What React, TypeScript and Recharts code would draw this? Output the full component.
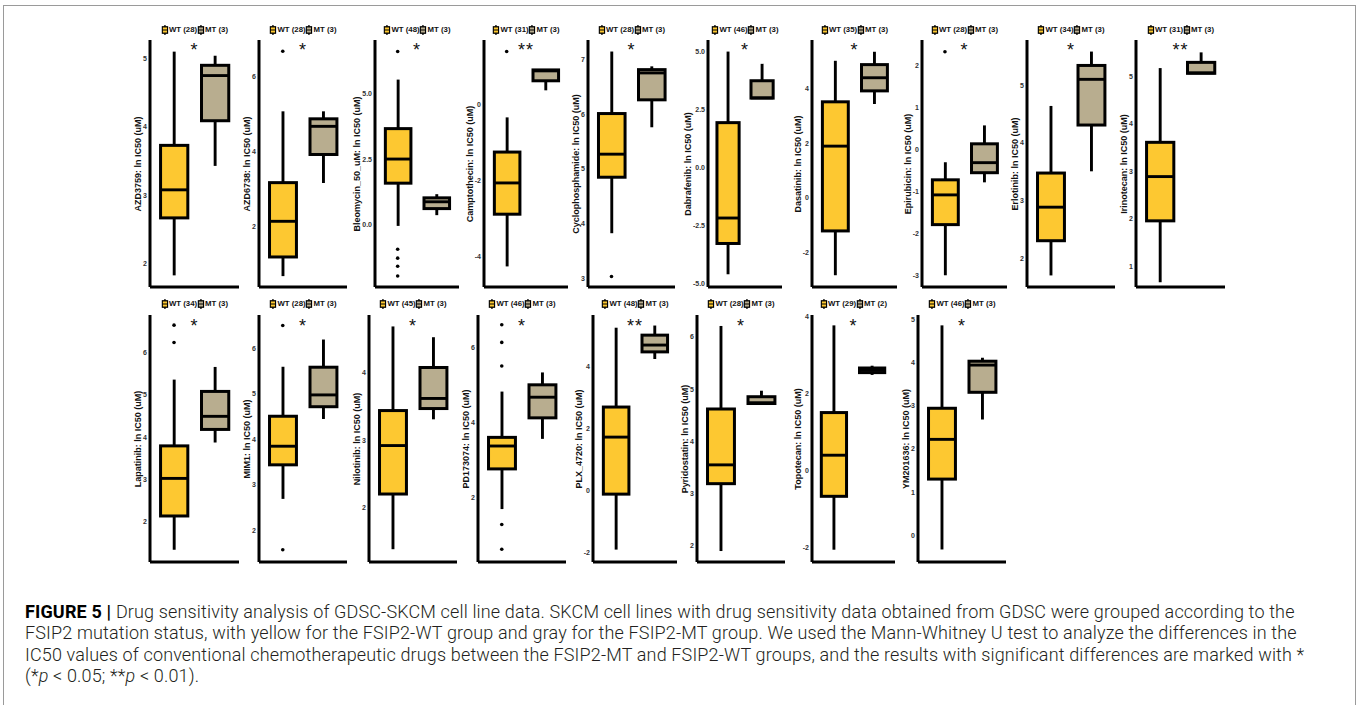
import React from 'react';
import { ComposedChart, Bar, Scatter, XAxis, YAxis } from 'recharts';

// ---------- data ----------
const drugs = [
  'AZD3759', 'AZD6738', 'Bleomycin_50_uM', 'Camptothecin', 'Cyclophosphamide',
  'Dabrafenib', 'Dasatinib', 'Epirubicin', 'Erlotinib', 'Irinotecan',
  'Lapatinib', 'MIM1', 'Nilotinib', 'PD173074', 'PLX_4720',
  'Pyridostatin', 'Topotecan', 'YM201636',
];
const groups = ['WT', 'MT'];
const wtCounts = [28, 28, 48, 31, 28, 46, 35, 28, 34, 31, 34, 28, 45, 46, 48, 28, 29, 46];
const mtCounts = [3, 3, 3, 3, 3, 3, 3, 3, 3, 3, 3, 3, 3, 3, 3, 3, 2, 3];
// [min, q1, median, q3, max]
const wtStats: number[][] = [
  [1.83, 2.67, 3.08, 3.73, 5.10],
  [0.69, 1.20, 2.15, 3.18, 5.08],
  [-0.05, 1.58, 2.50, 3.66, 5.53],
  [-4.25, -2.88, -2.06, -1.25, -0.34],
  [3.83, 4.85, 5.27, 6.01, 7.14],
  [-4.62, -3.29, -2.19, 1.93, 5.00],
  [-2.83, -1.21, 1.89, 3.51, 5.01],
  [-3.00, -1.79, -1.08, -0.72, -0.30],
  [1.71, 2.31, 2.89, 3.48, 4.64],
  [0.67, 1.96, 2.89, 3.61, 5.17],
  [1.33, 2.13, 3.02, 3.79, 5.36],
  [2.69, 3.44, 3.85, 4.51, 5.60],
  [1.38, 2.20, 2.92, 3.44, 4.69],
  [1.69, 2.76, 3.37, 3.60, 4.82],
  [-1.92, -0.13, 1.71, 2.68, 5.24],
  [1.90, 3.19, 3.55, 4.62, 6.21],
  [-2.07, -0.68, 0.39, 1.50, 3.77],
  [-0.33, 1.30, 2.22, 2.94, 4.86],
];
const mtStats: number[][] = [
  [3.43, 4.09, 4.75, 4.90, 5.04],
  [3.17, 3.93, 4.68, 4.88, 5.08],
  [0.36, 0.61, 0.87, 1.02, 1.16],
  [0.37, 0.62, 0.88, 0.905, 0.93],
  [5.76, 6.26, 6.75, 6.81, 6.87],
  [2.98, 2.99, 3.00, 3.74, 4.47],
  [3.43, 3.91, 4.39, 4.87, 5.34],
  [-0.78, -0.55, -0.31, 0.14, 0.58],
  [3.51, 4.31, 5.10, 5.34, 5.58],
  [5.05, 5.06, 5.07, 5.29, 5.50],
  [3.87, 4.18, 4.49, 5.08, 5.66],
  [4.45, 4.72, 4.98, 5.59, 6.20],
  [3.31, 3.47, 3.62, 4.08, 4.53],
  [3.56, 4.12, 4.67, 5.00, 5.33],
  [4.23, 4.46, 4.68, 5.00, 5.31],
  [4.71, 4.725, 4.74, 4.855, 4.97],
  [2.48, 2.54, 2.60, 2.66, 2.72],
  [2.68, 3.31, 3.94, 4.03, 4.11],
];
const wtOutliers: number[][] = [
  [], [6.68], [6.6, -0.94, -1.28, -1.59, -1.96], [1.39], [3.04], [], [], [2.34], [], [],
  [6.65, 6.24], [6.51, 1.57], [], [6.6, 6.13, 5.5, 1.28, 0.62], [], [], [], [],
];
const yDomains: number[][] = [
  [1.66, 5.27], [0.4, 6.98], [-2.38, 7.04], [-4.79, 1.69], [2.85, 7.35],
  [-5.17, 5.5], [-3.26, 5.77], [-3.28, 2.62], [1.51, 5.78], [0.57, 5.76],
  [1.04, 6.89], [1.3, 6.74], [1.19, 4.86], [0.28, 6.86], [-2.32, 5.65],
  [1.69, 6.42], [-2.39, 4.04], [-0.62, 5.1],
];
const yTicks: number[][] = [
  [2, 3, 4, 5], [2, 4, 6], [0, 2.5, 5], [-4, -2, 0], [3, 4, 5, 6, 7],
  [-5, -2.5, 0, 2.5, 5], [-2, 0, 2, 4], [-3, -2, -1, 0, 1, 2], [2, 3, 4, 5], [1, 2, 3, 4, 5],
  [2, 3, 4, 5, 6], [2, 3, 4, 5, 6], [2, 3, 4], [2, 4, 6], [-2, 0, 2, 4],
  [2, 3, 4, 5, 6], [-2, 0, 2, 4], [0, 1, 2, 3, 4, 5],
];
const tickDecimals = [0, 0, 1, 0, 0, 1, 0, 0, 0, 0, 0, 0, 0, 0, 0, 0, 0, 0];
const sigMarks = ['*', '*', '*', '**', '*', '*', '*', '*', '*', '**', '*', '*', '*', '*', '**', '*', '*', '*'];

// ---------- layout ----------
const panelLeft = [150, 259, 375, 484, 588, 708, 812, 922, 1027, 1136, 150, 259, 369, 478, 593, 697, 812, 918];
const panelWidth = [89, 88, 84, 84, 87, 74, 85, 85, 88, 89, 89, 88, 88, 88, 84, 88, 83, 88];
const rowPlotTop = [40, 315];
const rowLegendY = [30, 304];
const rowStarY = [46, 322];
const PLOT_H = 247;
const YW = 30;

const WT_COLOR = '#FDC831';
const MT_COLOR = '#B8AD8F';
const PANEL_FONT = '"Liberation Sans", Arial, Helvetica, sans-serif';

const fmt = (v: number, d: number) => (v < 0 ? '-' : '') + Math.abs(v).toFixed(d);
const tickWidth = (s: string) =>
  s.split('').reduce((a, c) => a + (c === '-' ? 2.33 : c === '.' ? 1.95 : 3.9), 0);

const BoxShape = (p: any) => {
  const { x, y, width, height, payload } = p;
  if (!payload || x == null) return null;
  const top = Math.min(y, y + height);
  const bot = Math.max(y, y + height);
  const { min, q1, med, q3, max, fill } = payload;
  const span = max - min || 1;
  const toPx = (v: number) => bot - ((v - min) / span) * (bot - top);
  const cx = x + width / 2;
  return (
    <g>
      <line x1={cx} x2={cx} y1={top} y2={bot} stroke="#000" strokeWidth={2.9} />
      <rect x={x} y={toPx(q3)} width={width} height={Math.max(toPx(q1) - toPx(q3), 0.5)} fill={fill} stroke="#000" strokeWidth={3} />
      <line x1={x} x2={x + width} y1={toPx(med)} y2={toPx(med)} stroke="#000" strokeWidth={2.9} />
    </g>
  );
};

const OutlierDot = (p: any) => <circle cx={p.cx} cy={p.cy} r={1.8} fill="#000" />;

const LegendIcon = ({ color }: { color: string }) => (
  <svg width={7} height={10} style={{ display: 'block' }}>
    <line x1={3.5} x2={3.5} y1={0} y2={10} stroke="#000" strokeWidth={1.3} />
    <rect x={0.8} y={1.8} width={5.4} height={6.4} fill={color} stroke="#000" strokeWidth={1.3} />
    <line x1={0.8} x2={6.2} y1={5} y2={5} stroke="#000" strokeWidth={1.1} />
  </svg>
);

function Panel({ i }: { i: number }) {
  const row = i < 10 ? 0 : 1;
  const w = panelWidth[i];
  const axisX = panelLeft[i];
  const plotTop = rowPlotTop[row];
  const pad = w * 0.04;
  const barW = w * 0.34 - 3;
  const data = groups.map((g, gi) => {
    const s = gi === 0 ? wtStats[i] : mtStats[i];
    return { group: g, min: s[0], q1: s[1], med: s[2], q3: s[3], max: s[4], fill: gi === 0 ? WT_COLOR : MT_COLOR };
  });
  const outliers = wtOutliers[i].map((v) => ({ x: 0.5, y: v }));
  const maxTickW = Math.max(...yTicks[i].map((t) => tickWidth(fmt(t, tickDecimals[i]))));
  const labelCx = axisX - 3 - maxTickW - 5;
  const center = axisX + w / 2;
  return (
    <>
      <div
        style={{
          position: 'absolute', left: center, top: rowLegendY[row] - 5, transform: 'translateX(-50%)',
          display: 'flex', alignItems: 'center', whiteSpace: 'nowrap', fontFamily: PANEL_FONT,
          fontSize: 7.8, fontWeight: 700, color: '#111', lineHeight: '10px',
        }}
      >
        <LegendIcon color={WT_COLOR} />
        <span style={{ marginLeft: 1 }}>{`WT (${wtCounts[i]})`}</span>
        <LegendIcon color={MT_COLOR} />
        <span style={{ marginLeft: 1 }}>{`MT (${mtCounts[i]})`}</span>
      </div>
      <div
        style={{
          position: 'absolute', left: center, top: rowStarY[row] - 5, transform: 'translateX(-50%)',
          fontFamily: PANEL_FONT, fontSize: 18, lineHeight: '18px', color: '#111', whiteSpace: 'nowrap',
          letterSpacing: 1,
        }}
      >
        {sigMarks[i]}
      </div>
      <div
        style={{
          position: 'absolute', left: labelCx, top: plotTop + PLOT_H / 2,
          transform: 'translate(-50%, -50%) rotate(-90deg)', whiteSpace: 'nowrap',
          fontFamily: PANEL_FONT, fontSize: 9, fontWeight: 700, color: '#111', lineHeight: '9px',
        }}
      >
        {`${drugs[i]}: ln IC50 (uM)`}
      </div>
      <div style={{ position: 'absolute', left: axisX - YW, top: plotTop - 2 }}>
        <ComposedChart
          width={YW + w + 4}
          height={PLOT_H + 4}
          data={data}
          margin={{ top: 2, right: 4, bottom: 0, left: 0 }}
        >
          <XAxis
            dataKey="group"
            type="category"
            tick={false}
            tickLine={false}
            height={2}
            padding={{ left: pad, right: pad }}
            axisLine={{ stroke: '#000', strokeWidth: 3 }}
          />
          <XAxis xAxisId="n" dataKey="x" type="number" domain={[0, 2]} hide padding={{ left: pad, right: pad }} />
          <YAxis
            type="number"
            domain={yDomains[i]}
            ticks={yTicks[i]}
            allowDataOverflow
            interval={0}
            width={YW}
            tickLine={false}
            tickSize={0}
            tickMargin={3}
            axisLine={{ stroke: '#000', strokeWidth: 3 }}
            tick={{ fontSize: 7, fontWeight: 700, fill: '#333333', fontFamily: PANEL_FONT }}
            tickFormatter={(v: number) => fmt(v, tickDecimals[i])}
          />
          <Bar
            dataKey={(d: any) => [d.min, d.max]}
            barSize={barW}
            shape={BoxShape}
            isAnimationActive={false}
          />
          <Scatter xAxisId="n" data={outliers} dataKey="y" shape={OutlierDot} isAnimationActive={false} />
        </ComposedChart>
      </div>
    </>
  );
}

const captionLines = [
  'Drug sensitivity analysis of GDSC-SKCM cell line data. SKCM cell lines with drug sensitivity data obtained from GDSC were grouped according to the',
  'FSIP2 mutation status, with yellow for the FSIP2-WT group and gray for the FSIP2-MT group. We used the Mann-Whitney U test to analyze the differences in the',
  'IC50 values of conventional chemotherapeutic drugs between the FSIP2-MT and FSIP2-WT groups, and the results with significant differences are marked with *',
];

export default function App() {
  return (
    <div style={{ position: 'absolute', left: 0, top: 0, width: 1360, height: 705, background: '#fff', overflow: 'hidden' }}>
      <div style={{ position: 'absolute', left: 3, top: 5, width: 1353, height: 720, border: '1px solid #9a9a9a', boxSizing: 'border-box' }} />
      {drugs.map((_, i) => (
        <Panel key={i} i={i} />
      ))}
      <div
        style={{
          position: 'absolute', left: 25, top: 601, fontFamily: 'Roboto, "Liberation Sans", sans-serif',
          fontWeight: 300, fontSize: 18, letterSpacing: 0.15, lineHeight: '21.4px', color: '#231F20', whiteSpace: 'nowrap',
        }}
      >
        <div>
          <b style={{ fontWeight: 700, color: '#000' }}>FIGURE 5 | </b>
          {captionLines[0]}
        </div>
        <div>{captionLines[1]}</div>
        <div>{captionLines[2]}</div>
        <div>
          (*<i>p</i> &lt; 0.05; **<i>p</i> &lt; 0.01).
        </div>
      </div>
    </div>
  );
}
